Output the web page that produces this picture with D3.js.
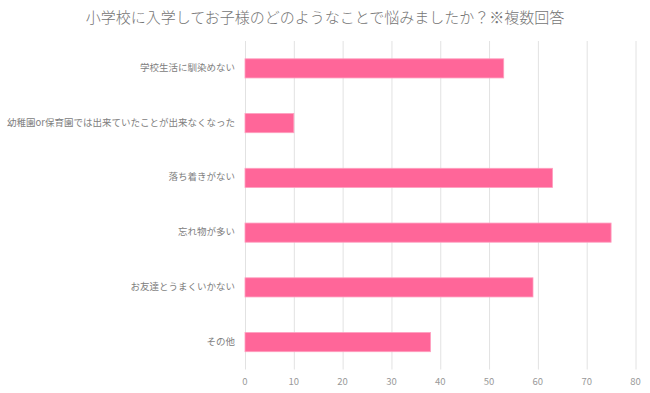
<!DOCTYPE html>
<html>
<head>
<meta charset="utf-8">
<script src="https://cdn.jsdelivr.net/npm/d3@7"></script>
<style>
  body { margin: 0; background: #fff; }
  svg { display: block; font-family: "Noto Sans CJK JP", "Noto Sans", sans-serif; }
</style>
</head>
<body>
<svg id="chart" width="650" height="393"></svg>
<script>
const title = '小学校に入学してお子様のどのようなことで悩みましたか？※複数回答';
const categories = [
    '学校生活に馴染めない',
    '幼稚園or保育園では出来ていたことが出来なくなった',
    '落ち着きがない',
    '忘れ物が多い',
    'お友達とうまくいかない',
    'その他'
];
const values = [53, 10, 63, 75, 59, 38];
const ticks = [0, 10, 20, 30, 40, 50, 60, 70, 80];

const svg = d3.select('#chart');

const x = d3.scaleLinear()
    .domain([0, 80])
    .range([245, 635.5]);

const y = d3.scaleBand()
    .domain(categories)
    .range([41, 369.5])
    .paddingInner(0.65)
    .paddingOuter(0.325);

svg.append('text')
    .attr('x', 325)
    .attr('y', 23)
    .attr('text-anchor', 'middle')
    .attr('fill', '#757575')
    .attr('font-size', '15px')
    .attr('font-weight', 300)
    .text(title);

// grid
svg.append('g')
    .selectAll('line')
    .data(ticks)
    .join('line')
    .attr('x1', d => x(d) + 0.5)
    .attr('x2', d => x(d) + 0.5)
    .attr('y1', 41)
    .attr('y2', 369.5)
    .attr('stroke', '#e2e2e2')
    .attr('stroke-width', 1);

// bars
svg.append('g')
    .selectAll('rect')
    .data(values)
    .join('rect')
    .attr('x', x(0))
    .attr('y', (d, i) => y(categories[i]))
    .attr('width', d => x(d) - x(0))
    .attr('height', y.bandwidth())
    .attr('fill', '#ff6699')
    .attr('stroke', '#ff9fbf')
    .attr('stroke-width', 0.8);

// category labels
svg.append('g')
    .selectAll('text')
    .data(categories)
    .join('text')
    .attr('x', 235)
    .attr('y', d => y(d) + y.bandwidth() / 2)
    .attr('text-anchor', 'end')
    .attr('dominant-baseline', 'middle')
    .attr('fill', '#808080')
    .attr('font-size', '9.5px')
    .text(d => d);

// tick labels
svg.append('g')
    .selectAll('text')
    .data(ticks)
    .join('text')
    .attr('x', d => x(d))
    .attr('y', 382)
    .attr('text-anchor', 'middle')
    .attr('dominant-baseline', 'middle')
    .attr('fill', '#999')
    .attr('font-size', '9.5px')
    .text(d => d);
</script>
</body>
</html>
